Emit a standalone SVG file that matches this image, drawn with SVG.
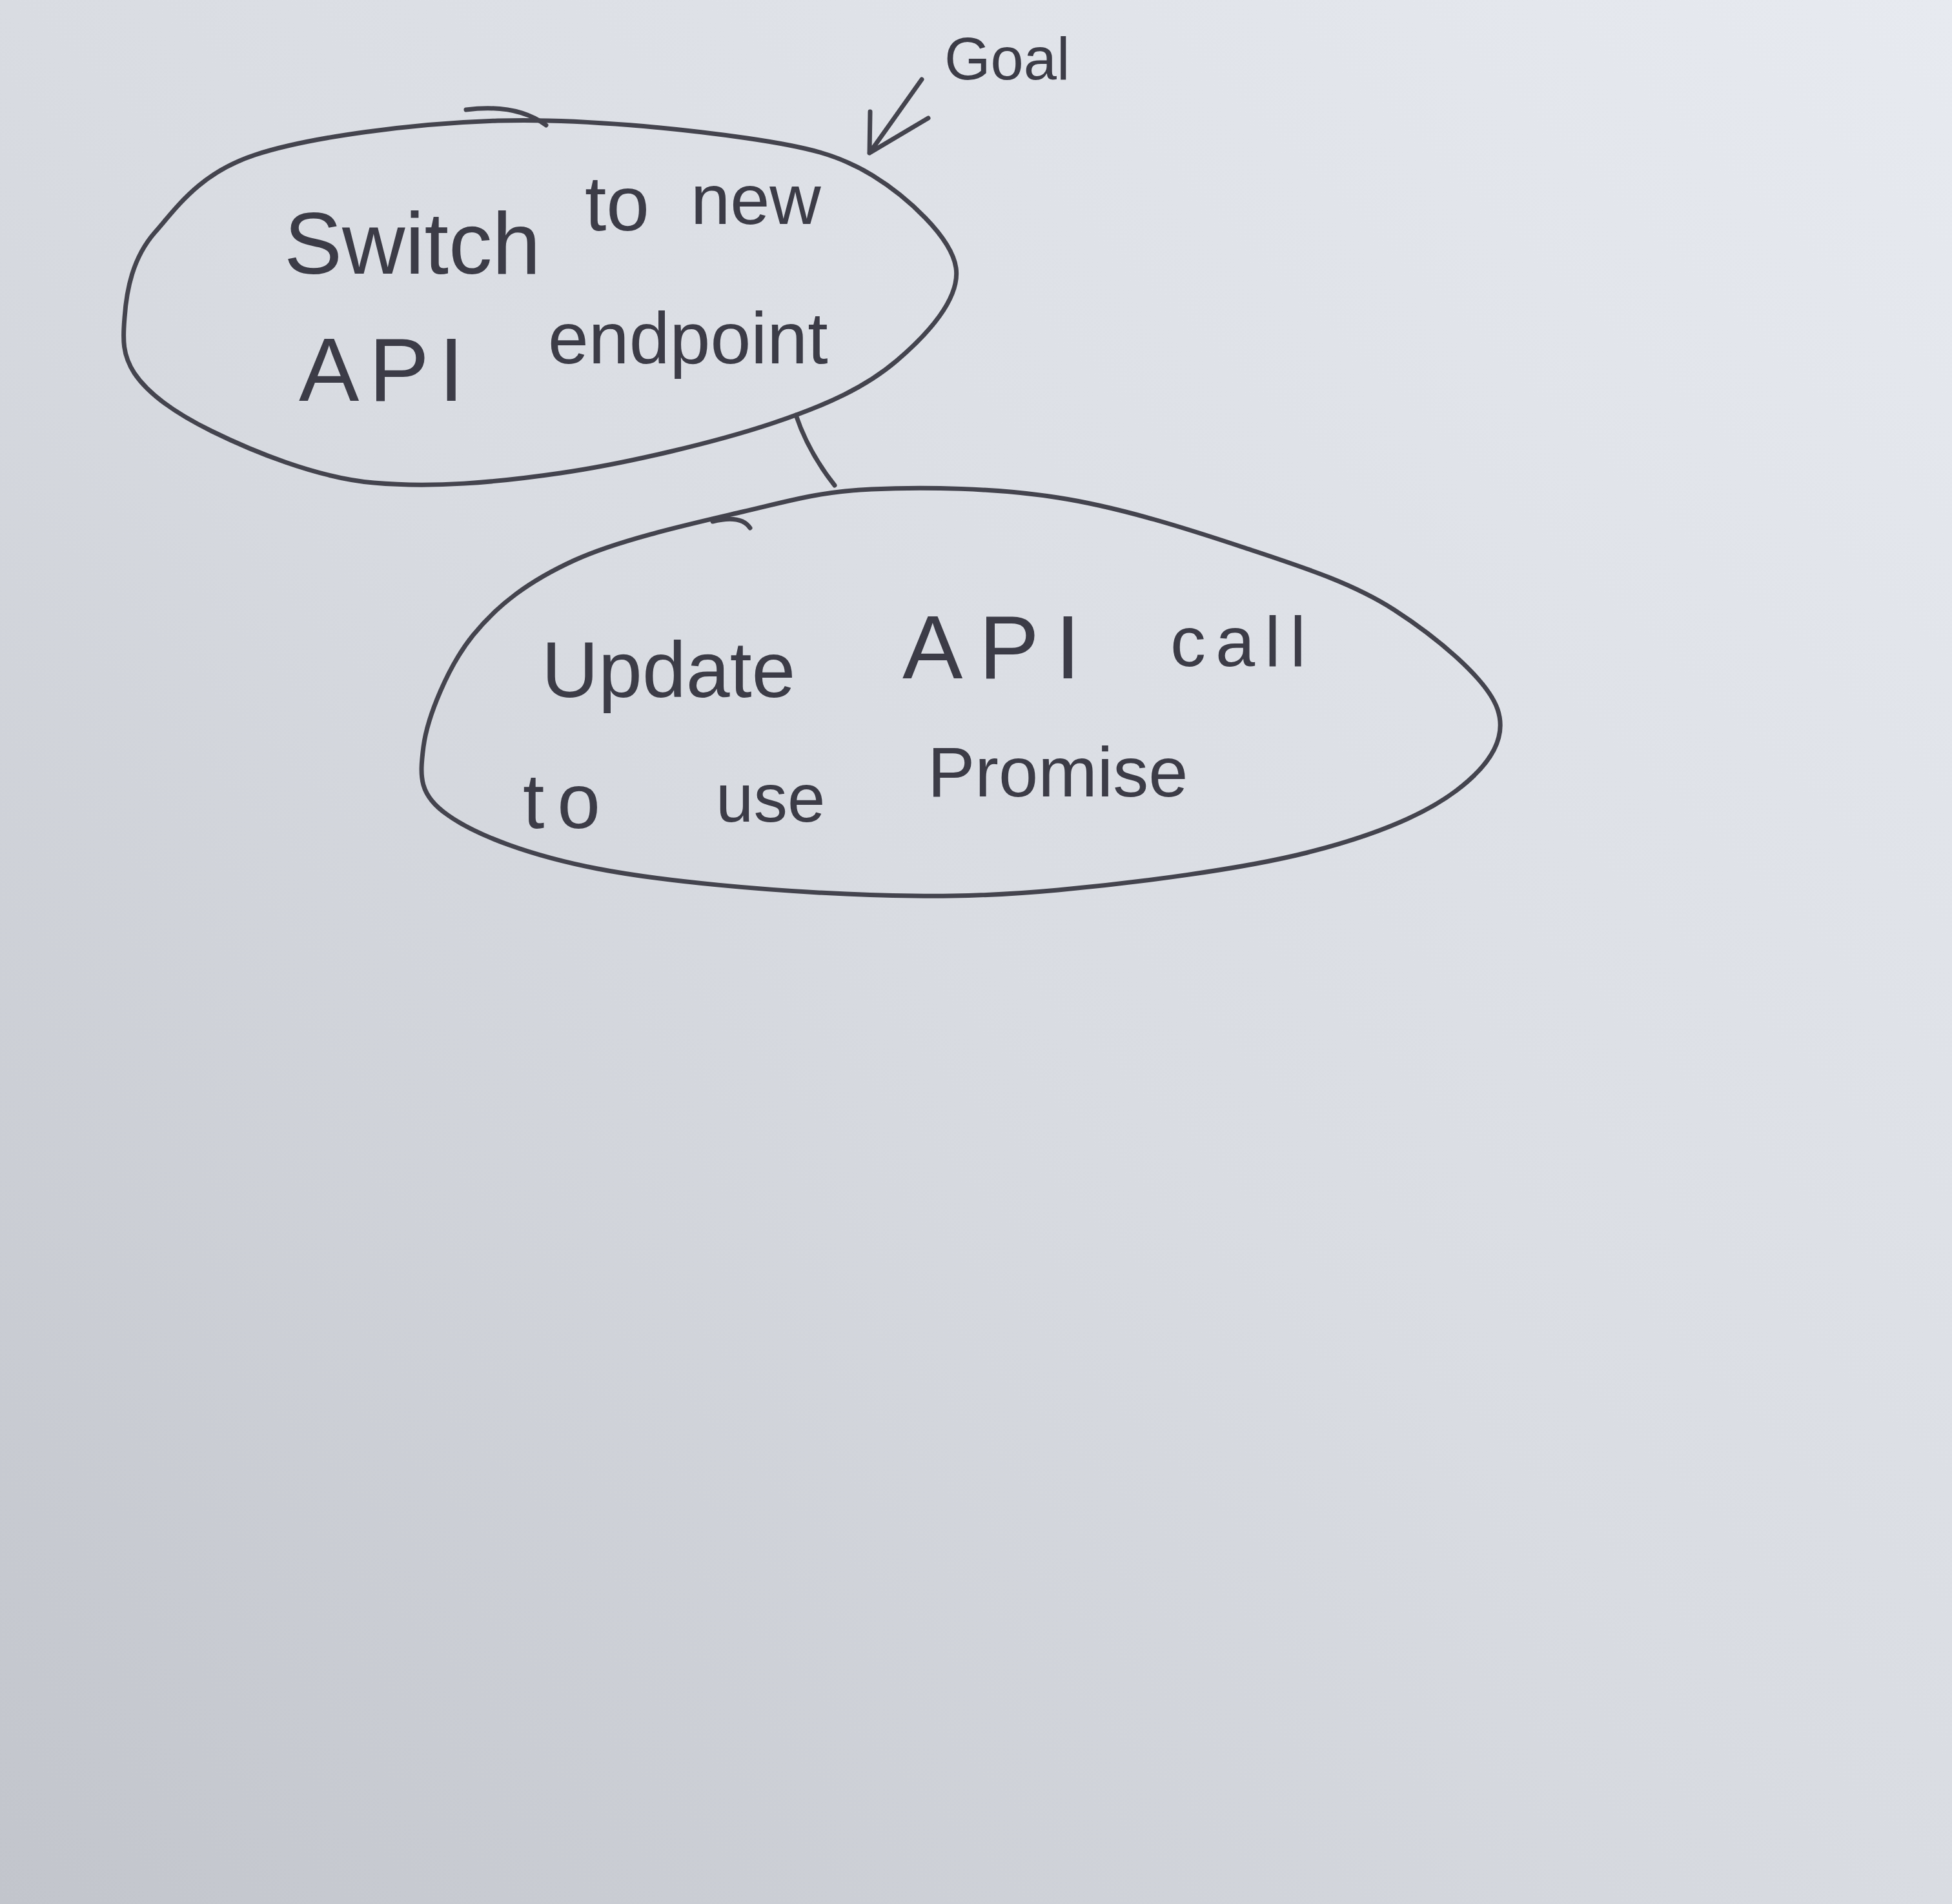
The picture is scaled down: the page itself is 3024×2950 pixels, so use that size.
<svg xmlns="http://www.w3.org/2000/svg" width="3024" height="2950" viewBox="0 0 3024 2950">
<defs>
<linearGradient id="paper" x1="1" y1="0" x2="0" y2="1">
<stop offset="0" stop-color="#e7eaf0"/>
<stop offset="0.5" stop-color="#d9dce2"/>
<stop offset="1" stop-color="#c2c5cc"/>
</linearGradient>
<style>
.pen{fill:none;stroke:#44444e;stroke-width:7;stroke-linecap:round;stroke-linejoin:round}
.hand{font-family:"Liberation Sans","DejaVu Sans",sans-serif;fill:#3c3c47}
</style>
</defs>
<rect x="0" y="0" width="3024" height="2950" fill="url(#paper)"/>

<g id="node-switch">
<path class="pen" d="M 193,492 C 196,450 205,400 240,360 C 275,320 310,268 395,240 C 480,212 642,191 771,187 C 900,183 1060,200 1157,214 C 1253,228 1300,240 1352,272 C 1404,304 1474,367 1481,415 C 1488,463 1436,519 1389,559 C 1342,599 1283,627 1196,656 C 1109,685 971,718 868,733 C 765,748 669,756 579,748 C 489,740 389,698 328,668 C 267,638 228,608 208,578 C 190,550 190,527 193,492 Z"/>
<path class="pen" d="M 722,170 Q 800,160 846,194"/>
<text class="hand"><tspan x="440" y="424" font-size="135">Switch</tspan><tspan x="906" y="357" font-size="120">to</tspan><tspan x="1070" y="347" font-size="110">new</tspan><tspan x="463" y="621" font-size="140" letter-spacing="15">API</tspan><tspan x="849" y="563" font-size="113">endpoint</tspan></text>
</g>

<g id="node-update">
<path class="pen" d="M 1150,793 C 1227,775 1268,762 1350,758 C 1431,754 1543,756 1639,771 C 1736,786 1842,820 1929,849 C 2016,878 2095,903 2160,945 C 2225,987 2304,1052 2320,1099 C 2336,1146 2305,1188 2256,1225 C 2207,1262 2128,1295 2025,1321 C 1922,1347 1758,1368 1639,1379 C 1520,1390 1430,1390 1311,1385 C 1192,1380 1029,1366 926,1346 C 823,1326 739,1295 694,1263 C 649,1232 650,1204 656,1157 C 662,1111 694,1032 733,984 C 772,936 820,900 890,868 C 960,836 1073,811 1150,793 Z"/>
<path class="pen" d="M 1104,808 Q 1148,797 1162,818"/>
<text class="hand"><tspan x="839" y="1080" font-size="122">Update</tspan><tspan x="1398" y="1051" font-size="140" letter-spacing="25">API</tspan><tspan x="1813" y="1032" font-size="110" letter-spacing="15">call</tspan><tspan x="810" y="1283" font-size="120" letter-spacing="20">to</tspan><tspan x="1109" y="1273" font-size="105">use</tspan><tspan x="1437" y="1234" font-size="110">Promise</tspan></text>
</g>

<g id="label-goal">
<text class="hand" x="1463" y="123" font-size="92">Goal</text>
</g>

<g id="connectors">
<path class="pen" d="M 1233,643 Q 1252,700 1293,752"/>
<path class="pen" d="M 1428,123 L 1347,237 M 1348,173 L 1347,237 L 1438,183"/>
</g>
</svg>
